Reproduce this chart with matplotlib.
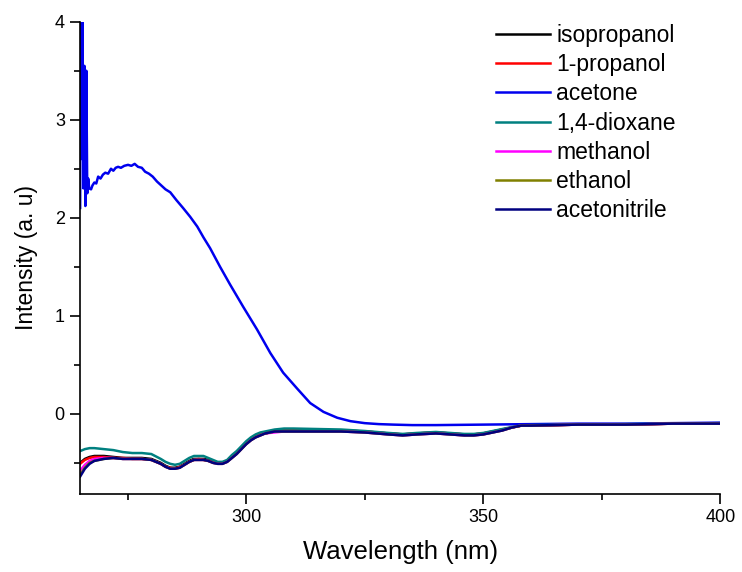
import matplotlib.pyplot as plt
from matplotlib.ticker import MultipleLocator

plt.rcParams['font.family'] = ['Liberation Sans', 'DejaVu Sans']

# wavelength grid shared by the six low-absorbance solvents (nm)
wl = [265, 266, 267, 268, 270, 272, 274, 276, 278, 280, 282, 283, 284, 285,
      286, 287, 288, 289, 290, 291, 292, 293, 294, 295, 296, 297, 298, 299,
      300, 301, 302, 303, 304, 306, 308, 310, 315, 320, 325, 330, 333, 336,
      340, 343, 346, 348, 350, 352, 354, 356, 358, 360, 370, 380, 390, 400]

isopropanol = [-0.50, -0.46, -0.44, -0.43, -0.43, -0.44, -0.45, -0.45, -0.45,
               -0.46, -0.50, -0.53, -0.55, -0.55, -0.54, -0.51, -0.48, -0.46,
               -0.46, -0.46, -0.47, -0.49, -0.50, -0.50, -0.48, -0.44, -0.40,
               -0.35, -0.30, -0.26, -0.23, -0.21, -0.20, -0.18, -0.17, -0.17,
               -0.17, -0.17, -0.18, -0.20, -0.21, -0.20, -0.19, -0.20, -0.21,
               -0.21, -0.20, -0.18, -0.16, -0.14, -0.12, -0.12, -0.11, -0.11,
               -0.10, -0.10]

propanol = [-0.51, -0.47, -0.45, -0.44, -0.44, -0.45, -0.45, -0.46, -0.46,
            -0.47, -0.51, -0.54, -0.55, -0.56, -0.54, -0.52, -0.49, -0.47,
            -0.46, -0.47, -0.48, -0.49, -0.50, -0.50, -0.48, -0.44, -0.40,
            -0.35, -0.30, -0.26, -0.23, -0.21, -0.20, -0.18, -0.17, -0.17,
            -0.17, -0.17, -0.18, -0.20, -0.21, -0.20, -0.19, -0.20, -0.21,
            -0.21, -0.20, -0.18, -0.16, -0.14, -0.12, -0.12, -0.11, -0.11,
            -0.10, -0.10]

dioxane = [-0.38, -0.36, -0.35, -0.35, -0.36, -0.37, -0.39, -0.40, -0.40,
           -0.41, -0.46, -0.49, -0.51, -0.52, -0.51, -0.48, -0.45, -0.43,
           -0.43, -0.43, -0.45, -0.47, -0.49, -0.49, -0.47, -0.42, -0.38,
           -0.33, -0.28, -0.24, -0.21, -0.19, -0.18, -0.16, -0.15, -0.15,
           -0.155, -0.16, -0.175, -0.195, -0.205, -0.195, -0.185, -0.195,
           -0.205, -0.205, -0.195, -0.175, -0.155, -0.135, -0.12, -0.115,
           -0.11, -0.105, -0.10, -0.095]

methanol = [-0.58, -0.52, -0.48, -0.46, -0.45, -0.45, -0.46, -0.46, -0.46,
            -0.47, -0.51, -0.54, -0.56, -0.56, -0.55, -0.52, -0.49, -0.47,
            -0.47, -0.47, -0.48, -0.50, -0.51, -0.51, -0.49, -0.45, -0.41,
            -0.36, -0.31, -0.27, -0.24, -0.22, -0.20, -0.19, -0.18, -0.18,
            -0.18, -0.18, -0.19, -0.21, -0.22, -0.21, -0.20, -0.21, -0.22,
            -0.22, -0.21, -0.19, -0.17, -0.14, -0.12, -0.12, -0.11, -0.11,
            -0.10, -0.10]

ethanol = [-0.62, -0.55, -0.50, -0.48, -0.46, -0.45, -0.46, -0.46, -0.46,
           -0.47, -0.51, -0.54, -0.56, -0.56, -0.55, -0.52, -0.49, -0.47,
           -0.47, -0.47, -0.48, -0.50, -0.51, -0.51, -0.49, -0.45, -0.41,
           -0.36, -0.31, -0.27, -0.24, -0.22, -0.20, -0.18, -0.18, -0.18,
           -0.18, -0.18, -0.19, -0.21, -0.22, -0.21, -0.20, -0.21, -0.22,
           -0.22, -0.21, -0.19, -0.17, -0.14, -0.12, -0.12, -0.11, -0.11,
           -0.10, -0.10]

acetonitrile = [-0.64, -0.56, -0.51, -0.48, -0.46, -0.45, -0.46, -0.46, -0.46,
                -0.47, -0.51, -0.54, -0.56, -0.56, -0.55, -0.52, -0.49, -0.47,
                -0.47, -0.47, -0.48, -0.50, -0.51, -0.51, -0.49, -0.45, -0.41,
                -0.36, -0.31, -0.27, -0.24, -0.22, -0.20, -0.18, -0.18, -0.18,
                -0.18, -0.18, -0.19, -0.21, -0.22, -0.21, -0.20, -0.21, -0.22,
                -0.22, -0.21, -0.19, -0.17, -0.14, -0.12, -0.12, -0.11, -0.11,
                -0.10, -0.10]

# acetone absorbs strongly below ~320 nm, with a noisy saturated edge
wl_acetone = [265.0, 265.1, 265.3, 265.5, 265.7, 265.9, 266.1, 266.3, 266.5,
              266.7, 266.9, 267.3, 267.6, 268.0, 268.4, 268.8, 269.3, 269.8,
              270.3, 270.9, 271.5, 272.0, 272.5, 273.0, 273.6, 274.3, 275.1,
              275.8, 276.5, 277.2, 278.0, 278.7, 279.5, 280.3, 281.2, 282.1,
              283.0, 284.0, 285.3, 286.7, 288.2, 289.7, 291.0, 292.4, 294.5,
              296.6, 299.4, 302.3, 305.1, 307.8, 310.8, 313.5, 316.3, 319.2,
              322.0, 325.0, 328.0, 331.0, 335.0, 340.0, 350.0, 360.0, 370.0,
              380.0, 390.0, 400.0]
acetone = [2.10, 4.05, 2.60, 4.05, 2.30, 3.55, 2.12, 3.50, 2.25, 2.40, 2.30,
           2.29, 2.33, 2.36, 2.35, 2.42, 2.40, 2.44, 2.46, 2.45, 2.50, 2.48,
           2.51, 2.52, 2.51, 2.53, 2.54, 2.53, 2.55, 2.52, 2.51, 2.47, 2.45,
           2.42, 2.37, 2.33, 2.29, 2.26, 2.18, 2.10, 2.01, 1.91, 1.80, 1.69,
           1.50, 1.32, 1.09, 0.86, 0.62, 0.42, 0.255, 0.11, 0.02, -0.04,
           -0.075, -0.095, -0.105, -0.11, -0.115, -0.115, -0.11, -0.105,
           -0.10, -0.10, -0.095, -0.09]

fig = plt.figure(figsize=(7.42, 5.72), dpi=100)
ax = fig.add_axes([0.108, 0.136, 0.863, 0.826])

ax.plot(wl, isopropanol, color='black', lw=1.8, label='isopropanol')
ax.plot(wl, propanol, color='red', lw=1.8, label='1-propanol')
ax.plot(wl_acetone, acetone, color='#0000ee', lw=1.8, label='acetone')
ax.plot(wl, dioxane, color='#008080', lw=1.8, label='1,4-dioxane')
ax.plot(wl, methanol, color='#ff00ff', lw=1.8, label='methanol')
ax.plot(wl, ethanol, color='#808000', lw=1.8, label='ethanol')
ax.plot(wl, acetonitrile, color='#000080', lw=1.8, label='acetonitrile')

ax.set_xlim(265, 400)
ax.set_ylim(-0.82, 4)
ax.xaxis.set_major_locator(MultipleLocator(50))
ax.xaxis.set_minor_locator(MultipleLocator(25))
ax.yaxis.set_major_locator(MultipleLocator(1))
ax.yaxis.set_minor_locator(MultipleLocator(0.5))
ax.tick_params(which='major', direction='out', length=7, width=1.2,
               labelsize=13, pad=4)
ax.tick_params(which='minor', direction='out', length=4, width=1.2)
for side in ['top', 'right']:
    ax.spines[side].set_visible(False)
for side in ['left', 'bottom']:
    ax.spines[side].set_linewidth(1.2)

ax.set_xlabel('Wavelength (nm)', fontsize=18.5, labelpad=10)
ax.set_ylabel('Intensity (a. u)', fontsize=16.5, labelpad=12)

ax.legend(loc='upper left', bbox_to_anchor=(496 / 742, 1 - 24 / 572),
          bbox_transform=fig.transFigure, frameon=False, fontsize=16.5,
          handlelength=2.35, handletextpad=0.28, labelspacing=0.27,
          borderpad=0, borderaxespad=0)

fig.savefig('out.png', dpi=100)
